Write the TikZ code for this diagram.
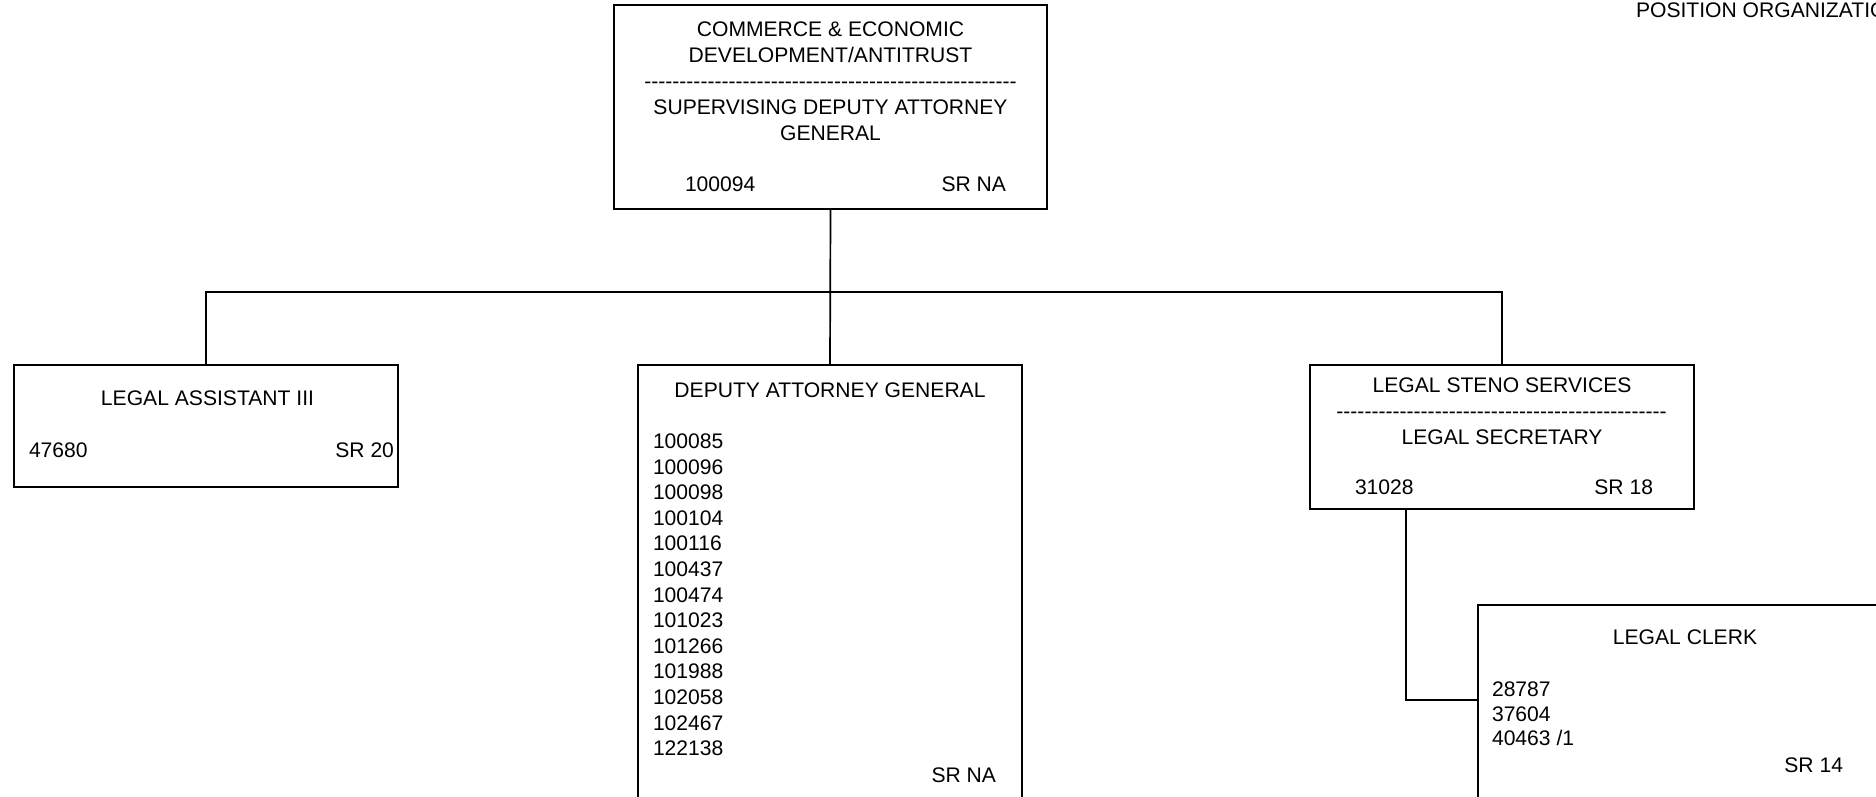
\documentclass[tikz,border=0pt]{standalone}
\usepackage{fontspec}
\setmainfont{Liberation Sans}
\newcommand\dashrow[1]{\foreach\k in {1,...,#1}{-}}
\begin{document}
\begin{tikzpicture}[x=1pt,y=-1pt,
  box/.style={draw, line width=1.7pt, inner sep=0pt, outer sep=0pt, anchor=north west},
  lbl/.style={inner sep=0pt, outer sep=0pt, font=\fontsize{21.1}{25}\selectfont},
  link/.style={line width=1.7pt}]
\useasboundingbox (0,0) rectangle (1876,796);
\clip (0,0) rectangle (1876,796);
% boxes
\node[box, minimum width=433pt, minimum height=204pt] (top) at (614,5) {};
\node[box, minimum width=384pt, minimum height=122pt] (la) at (14,365) {};
\node[box, minimum width=384pt, minimum height=520pt] (dag) at (638,365) {};
\node[box, minimum width=384pt, minimum height=144pt] (steno) at (1310,365) {};
\node[box, minimum width=414pt, minimum height=320pt] (clerk) at (1478,605) {};
% connectors
\coordinate (bus) at (830,292);
\draw[link] (top.south) -- (dag.north);
\draw[link] (la.north) |- (bus) -| (steno.north);
\draw[link] ([xshift=96pt]steno.south west) |- ([yshift=-95pt]clerk.north west);
% title
\node[lbl, anchor=base west] (ttl) at (1636,17.5) {POSITION ORGANIZATIO};
% top box texts
\node[lbl, anchor=base] (t1) at (830.5,36.5) {COMMERCE \& ECONOMIC};
\node[lbl, anchor=base] (t2) at (830.5,62.5) {DEVELOPMENT/ANTITRUST};
\node[lbl, anchor=base] (t3) at (830.5,88) {\dashrow{53}};
\node[lbl, anchor=base] (t4) at (830.5,114.5) {SUPERVISING DEPUTY ATTORNEY};
\node[lbl, anchor=base] (t5) at (830.5,140.5) {GENERAL};
\node[lbl, anchor=base west] (t6) at (685,191) {100094};
\node[lbl, anchor=base east] (t7) at (1006,191) {SR NA};
% legal assistant
\node[lbl, anchor=base] (la1) at (207.5,405.5) {LEGAL ASSISTANT III};
\node[lbl, anchor=base west] (la2) at (29,457.5) {47680};
\node[lbl, anchor=base east] (la3) at (394,457.5) {SR 20};
% deputy attorney general
\node[lbl, anchor=base] (d0) at (830,397.5) {DEPUTY ATTORNEY GENERAL};
\foreach \n [count=\i from 0] in {100085,100096,100098,100104,100116,100437,100474,101023,101266,101988,102058,102467,122138}
  \node[lbl, anchor=base west] (dn\i) at (653,448.5+25.6*\i) {\n};
\node[lbl, anchor=base east] (dsr) at (996,782.5) {SR NA};
% steno
\node[lbl, anchor=base] (s1) at (1502,392.5) {LEGAL STENO SERVICES};
\node[lbl, anchor=base] (s2) at (1501.5,418) {\dashrow{47}};
\node[lbl, anchor=base] (s3) at (1502,444.5) {LEGAL SECRETARY};
\node[lbl, anchor=base west] (s4) at (1355,494.5) {31028};
\node[lbl, anchor=base east] (s5) at (1653,494.5) {SR 18};
% clerk
\node[lbl, anchor=base] (c1) at (1685,644.5) {LEGAL CLERK};
\node[lbl, anchor=base west] (c2) at (1492,696.5) {28787};
\node[lbl, anchor=base west] (c3) at (1492,721) {37604};
\node[lbl, anchor=base west] (c4) at (1492,745.5) {40463 /1};
\node[lbl, anchor=base east] (c5) at (1843,772.5) {SR 14};
\end{tikzpicture}
\end{document}
